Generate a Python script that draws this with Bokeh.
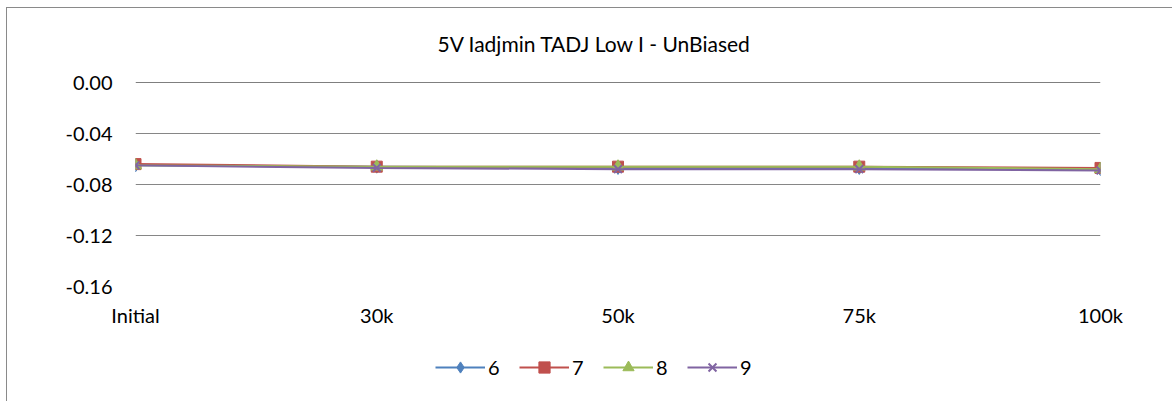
from bokeh.plotting import figure
from bokeh.layouts import column
from bokeh.models import Span, Legend, LegendItem, FixedTicker, Range1d, Label
from bokeh.embed import file_html
from bokeh.resources import INLINE

categories = ["Initial", "30k", "50k", "75k", "100k"]
s6 = [-0.065, -0.066, -0.067, -0.067, -0.068]
s7 = [-0.064, -0.066, -0.066, -0.066, -0.067]
s8 = [-0.065, -0.066, -0.066, -0.066, -0.068]
s9 = [-0.065, -0.067, -0.068, -0.068, -0.069]
series_names = ["6", "7", "8", "9"]
y_ticks = [0.0, -0.04, -0.08, -0.12, -0.16]
title_text = "5V Iadjmin TADJ Low I  - UnBiased"

FONT = "Lato"
FS = "20px"
xs = list(range(len(categories)))
colors = ["#4F81BD", "#C0504D", "#9BBB59", "#8064A2"]
markers = ["diamond", "square", "triangle", "x"]
sizes = [13, 11, 12, 11]
BORDER = "1px solid #8a8a8a"
W = 1166


def blank(h, y0=0):
    f = figure(width=W, height=h, output_backend="svg", toolbar_location=None,
               x_range=Range1d(0, W), y_range=Range1d(y0, y0 + h),
               x_axis_location=None, y_axis_location=None,
               min_border_left=0, min_border_right=0, min_border_top=0, min_border_bottom=0)
    f.outline_line_color = None
    f.grid.visible = False
    f.background_fill_color = "white"
    f.border_fill_color = "white"
    return f


# title strip
pt = blank(63)
pt.styles = {"border-left": BORDER, "border-top": BORDER}
pt.add_layout(Label(x=558, y=28, text=title_text, text_align="center",
                    text_baseline="middle", text_font=FONT, text_font_size="21px",
                    text_color="black"))

# main chart
p = figure(width=W, height=267, output_backend="svg", toolbar_location=None,
           x_range=Range1d(0, len(categories) - 1), y_range=Range1d(-0.16, 0.0),
           min_border_left=128, min_border_right=73, min_border_top=12, min_border_bottom=51)
p.styles = {"border-left": BORDER}
p.outline_line_color = None
p.background_fill_color = "white"
p.border_fill_color = "white"

p.xgrid.visible = False
p.ygrid.grid_line_color = "#868686"
p.ygrid.grid_line_width = 1
p.yaxis.ticker = FixedTicker(ticks=y_ticks)
p.yaxis.major_label_overrides = {t: f"{t:.2f}" for t in y_ticks}
p.yaxis.axis_line_color = None
p.yaxis.major_tick_line_color = None
p.yaxis.minor_tick_line_color = None
p.yaxis.major_label_standoff = 17
p.yaxis.major_label_text_font = FONT
p.yaxis.major_label_text_font_size = FS
p.yaxis.major_label_text_color = "black"

p.xaxis.ticker = FixedTicker(ticks=xs)
p.xaxis.major_label_overrides = {i: c for i, c in enumerate(categories)}
p.xaxis.axis_line_color = None
p.xaxis.major_tick_line_color = None
p.xaxis.minor_tick_line_color = None
p.xaxis.major_label_standoff = 10
p.xaxis.major_label_text_font = FONT
p.xaxis.major_label_text_font_size = FS
p.xaxis.major_label_text_color = "black"

p.add_layout(Span(location=0, dimension="width", line_color="black", line_width=1))

# legend strip (its copies of the series lie outside its visible range)
pl = blank(64, y0=100)
pl.styles = {"border-left": BORDER}

items = []
for name, ys, c, m, sz in zip(series_names, [s6, s7, s8, s9], colors, markers, sizes):
    for fig in (p, pl):
        ln = fig.line(xs, ys, line_color=c, line_width=2)
        if m == "x":
            sc = fig.scatter(xs, ys, marker=m, size=sz, line_color=c, line_width=2)
        else:
            sc = fig.scatter(xs, ys, marker=m, size=sz, fill_color=c, line_color=c)
    items.append(LegendItem(label=name, renderers=[ln, sc]))

legend = Legend(items=items, orientation="horizontal", location=(300, 20),
                glyph_width=50, glyph_height=28, label_standoff=3, label_width=20,
                spacing=11, padding=0, margin=0, border_line_color=None,
                background_fill_alpha=0, label_text_font=FONT,
                label_text_font_size=FS, label_text_color="black")
pl.add_layout(legend, "center")

layout = column(pt, p, pl, spacing=0)
layout.margin = (7, 0, 0, 6)

open("out.html", "w").write(file_html(layout, INLINE))
